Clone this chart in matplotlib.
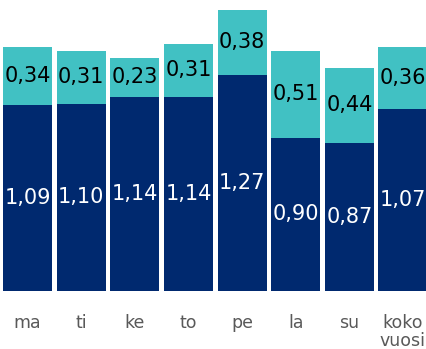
import matplotlib
matplotlib.use("Agg")
import matplotlib.pyplot as plt
from matplotlib.transforms import blended_transform_factory

categories = ["ma", "ti", "ke", "to", "pe", "la", "su", "koko\nvuosi"]
base_values = [1.09, 1.10, 1.14, 1.14, 1.27, 0.90, 0.87, 1.07]
top_values = [0.34, 0.31, 0.23, 0.31, 0.38, 0.51, 0.44, 0.36]

navy = "#00296f"
teal = "#41c1c3"
label_gray = "#595959"

W, H = 426, 349
fig = plt.figure(figsize=(W / 100, H / 100), dpi=100)
ax = fig.add_axes([0, 1 - 291 / H, 1, 291 / H])

x = list(range(len(categories)))
width = 0.913
ax.bar(x, base_values, width=width, color=navy)
ax.bar(x, top_values, width=width, bottom=base_values, color=teal)

fmt = lambda v: f"{v:.2f}".replace(".", ",")
for xi, b, t in zip(x, base_values, top_values):
    ax.text(xi, b / 2, fmt(b), ha="center", va="center", color="white", fontsize=15)
    ax.text(xi, b + t / 2, fmt(t), ha="center", va="center", color="black", fontsize=15)

ax.set_xlim(-27.5 / 53.64, (W - 27.5) / 53.64)
ax.set_ylim(0, 291 / 170.3)
ax.axis("off")

# category names under the bars, one text per line so the first line sits on a common baseline
trans = blended_transform_factory(ax.transData, fig.transFigure)
for xi, c in zip(x, categories):
    for i, line in enumerate(c.split("\n")):
        ax.text(xi, 1 - (328.5 + 18 * i) / H, line, ha="center", va="baseline",
                color=label_gray, fontsize=12.5, transform=trans)

fig.savefig("out.png", dpi=100)
